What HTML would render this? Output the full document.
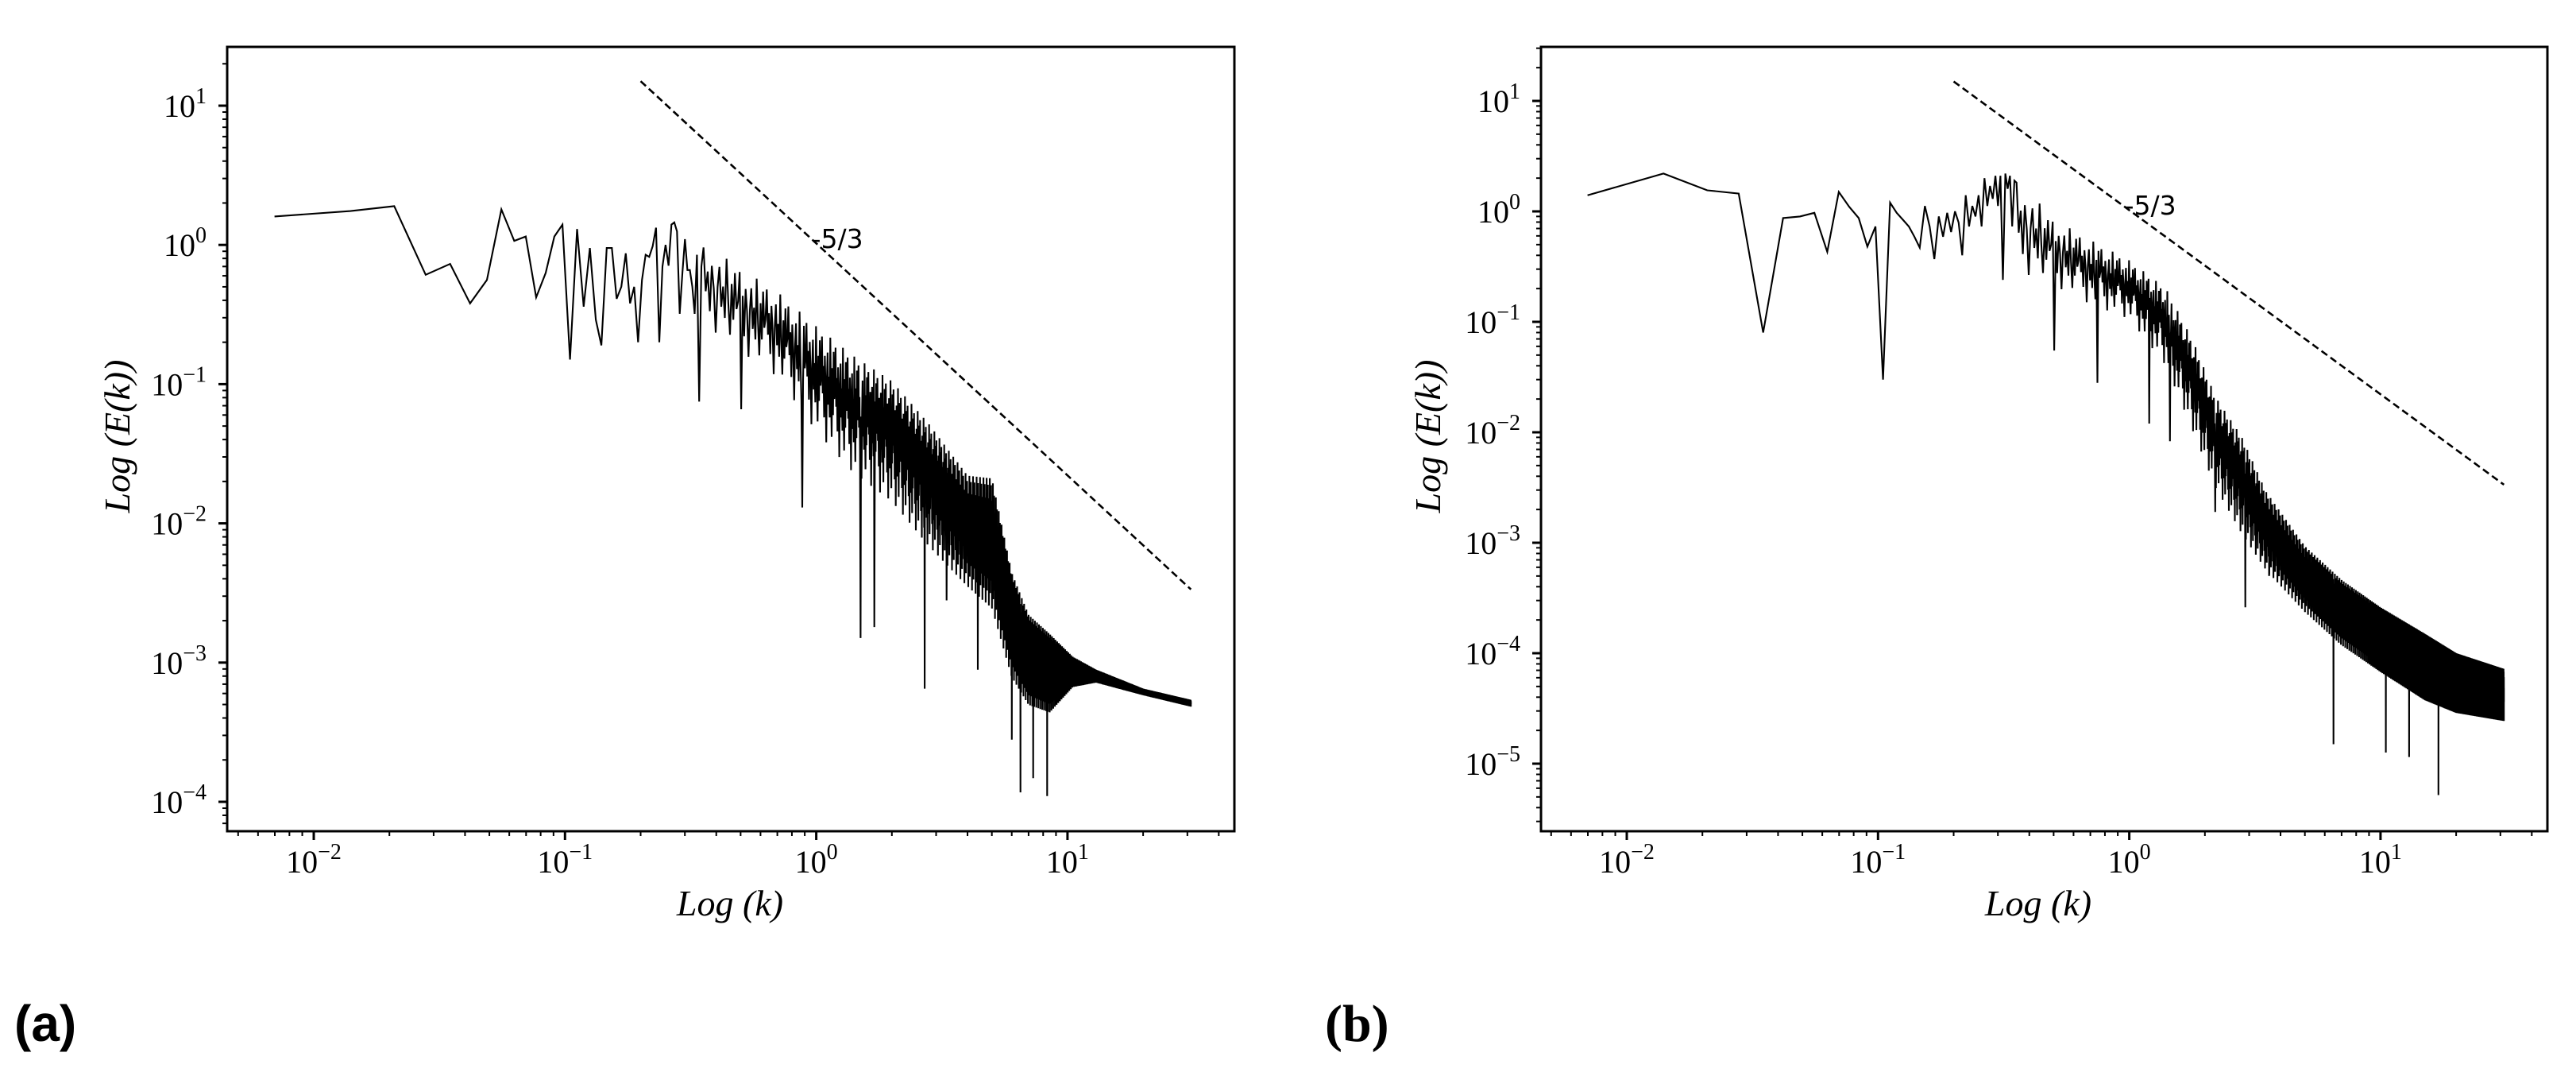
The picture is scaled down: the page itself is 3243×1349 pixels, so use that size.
<!DOCTYPE html>
<html><head><meta charset="utf-8">
<style>
html,body{margin:0;padding:0;background:#fff;}
svg{display:block;}
.tl{font-family:"Liberation Serif",serif;font-size:40px;fill:#000;}
.al{font-family:"Liberation Serif",serif;font-style:italic;font-size:46px;fill:#000;}
.sl{font-family:"DejaVu Sans","Liberation Sans",sans-serif;font-size:33px;fill:#000;}
</style></head>
<body>
<svg id="fig" width="3243" height="1349" viewBox="0 0 3243 1349" xmlns="http://www.w3.org/2000/svg">
<rect width="3243" height="1349" fill="#fff"/>
<text x="18" y="1310" font-family="Liberation Sans, sans-serif" font-weight="bold" font-size="64">(a)</text>
<text x="1668" y="1310" font-family="Liberation Serif, serif" font-weight="bold" font-size="66">(b)</text>
</svg>
<script>
// ---- Panel (a) data ----
const aLowK=[0.00698,0.0140,0.0209,0.0279,0.0349,0.0419,0.0489,0.0558,0.0628,0.0698,0.0768,0.0838,0.0907,0.0977,0.1047,0.1117,0.1187,0.1256,0.1326,0.1396,0.1466,0.1536,0.1605,0.1675,0.1745,0.1815,0.1885,0.1954,0.2024,0.2094,0.2164,0.2234,0.2303,0.2373,0.2443,0.2513,0.2583,0.2652,0.2722,0.2792,0.2862,0.2932,0.3001,0.3071,0.3141,0.3211,0.3281,0.3350,0.3420,0.3490];
const aLowE=[1.6,1.75,1.9,0.61,0.73,0.38,0.56,1.8,1.07,1.15,0.42,0.63,1.15,1.4,0.15,1.3,0.36,0.95,0.29,0.19,0.95,0.95,0.41,0.5,0.87,0.38,0.5,0.2,0.56,0.85,0.82,0.98,1.33,0.2,0.7,1.0,0.71,1.4,1.45,1.25,0.32,0.63,1.1,0.66,0.66,0.5,0.32,0.85,0.075,0.7];
const aEnvK=[0.35,0.5,0.7,1.0,1.4,2.0,2.8,4.0,5.0,6.0,7.0,8.5,10.5,13,20,31];
const aEnvUpper=[1.05,0.68,0.46,0.26,0.16,0.105,0.052,0.022,0.021,0.0044,0.0022,0.0016,0.0011,0.00089,0.00065,0.00054];
const aEnvLower=[0.26,0.16,0.105,0.042,0.021,0.013,0.0062,0.0032,0.0022,0.00072,0.00046,0.00041,0.00065,0.00071,0.00058,0.00048];
const aDipK=[0.5,0.88,1.5,1.7,2.7,3.3,4.4,6.0,6.5,7.3,8.3];
const aDipE=[0.066,0.013,0.0015,0.0018,0.00065,0.0028,0.00089,0.00028,0.000117,0.000148,0.00011];
// ---- Panel (b) data ----
const bLowK=[0.00698,0.0140,0.0209,0.0279,0.0349,0.0419,0.0489,0.0558,0.0628,0.0698,0.0768,0.0838,0.0907,0.0977,0.1047,0.1117,0.1187,0.1256,0.1326,0.1396,0.1466,0.1536,0.1605,0.1675,0.1745,0.1815,0.1885,0.1954,0.2024,0.2094,0.2164,0.2234,0.2303,0.2373,0.2443,0.2513,0.2583,0.2652,0.2722,0.2792,0.2862,0.2932,0.3001,0.3071,0.3141,0.3211,0.3281,0.3350,0.3420,0.3490];
const bLowE=[1.4,2.2,1.55,1.45,0.08,0.87,0.9,0.97,0.43,1.5,1.1,0.87,0.48,0.73,0.03,1.2,0.97,0.84,0.73,0.59,0.47,1.12,0.73,0.37,0.9,0.59,0.97,0.65,1.0,0.79,0.4,1.4,0.73,1.12,0.9,1.4,0.73,2.0,1.12,1.7,1.3,2.1,1.12,2.1,0.24,2.2,1.6,2.1,0.73,1.9];
const bEnvK=[0.35,0.5,0.7,1.0,1.4,1.8,2.2,2.8,3.5,5,7,10,15,20,31];
const bEnvUpper=[2.1,0.85,0.55,0.36,0.2,0.066,0.021,0.0091,0.0029,0.00093,0.00046,0.00026,0.00015,0.0001,0.000072];
const bEnvLower=[0.27,0.2,0.135,0.1,0.037,0.0091,0.0029,0.0011,0.00052,0.00022,0.00011,0.000063,0.000035,0.000027,0.000023];
const bDipK=[0.5,0.75,1.2,1.45,2.2,2.9,3.6,6.5,10.5,13,17];
const bDipE=[0.055,0.028,0.012,0.0083,0.0019,0.00026,0.0005,0.000015,0.0000126,0.0000115,0.0000052];
// reference slope line
const slopeK=[0.2,31];
const slopeE0=15;
const slopeExp=-5/3;
const xTickExps=[-2,-1,0,1];
const aYTickExps=[-4,-3,-2,-1,0,1];
const bYTickExps=[-5,-4,-3,-2,-1,0,1];
const K0=0.00698;
// position within envelope band (0 = lower, 1 = upper) cycled over samples
const bandPattern=[0.95,0.45,0.7,0.25,0.8,0.55,0.05,0.6,0.85,0.4,0.65,0.3,1.0,0.5,0.15,0.75,0.35,0.9,0.5,0.6];

const NS="http://www.w3.org/2000/svg";
const svg=document.getElementById('fig');
function mk(tag,attrs,parent){const e=document.createElementNS(NS,tag);for(const k in attrs)e.setAttribute(k,attrs[k]);(parent||svg).appendChild(e);return e;}

function interpLog(ks,vs,k){
  const lk=Math.log10(k);
  for(let i=0;i<ks.length-1;i++){
    const a=Math.log10(ks[i]),b=Math.log10(ks[i+1]);
    if(lk>=a&&lk<=b){const t=(lk-a)/(b-a);return Math.log10(vs[i])*(1-t)+Math.log10(vs[i+1])*t;}
  }
  return Math.log10(vs[lk<Math.log10(ks[0])?0:vs.length-1]);
}

function drawPanel(p,lowK,lowE,envK,envU,envL,dipK,dipE,yExps){
  const X=k=>p.x0+(Math.log10(k)+2)*p.xd;
  const Y=e=>p.y0-Math.log10(e)*p.yd;
  const g=mk('g',{});
  
  
  const cid='clip-'+p.name;
  const cp=mk('clipPath',{id:cid},g);
  mk('rect',{x:p.l,y:p.t,width:p.r-p.l,height:p.b-p.t},cp);
  const pts=[];
  for(let i=0;i<lowK.length;i++)pts.push([X(lowK[i]),Y(lowE[i])]);
  const kStart=envK[0]+K0, kEnd=envK[envK.length-1];
  const dipIdx={};
  for(let j=0;j<dipK.length;j++){dipIdx[Math.round(dipK[j]/K0)]=dipE[j];}
  let n=Math.round(kStart/K0);
  let i=0;
  while(n*K0<=kEnd){
    const k=n*K0;
    const u=interpLog(envK,envU,k), lo=interpLog(envK,envL,k);
    const f=bandPattern[i%bandPattern.length];
    let e=Math.pow(10,lo+f*(u-lo));
    if(dipIdx[n]!==undefined)e=dipIdx[n];
    pts.push([X(k),Y(e)]);
    n++;i++;
  }
  const line=mk('polyline',{points:pts.map(q=>q[0].toFixed(1)+','+q[1].toFixed(1)).join(' '),fill:'none',stroke:'#000','stroke-width':2.1,'stroke-linejoin':'miter','clip-path':'url(#'+cid+')'},g);
  
  
  const sl=mk('line',{x1:X(slopeK[0]),y1:Y(slopeE0),x2:X(slopeK[1]),y2:Y(slopeE0*Math.pow(slopeK[1]/slopeK[0],slopeExp)),stroke:'#000','stroke-width':2.6,'stroke-dasharray':'9,5'},g);
  
  
  const st=mk('text',{x:X(1.0)-6,y:Y(1.0)+4,class:'sl'},g);
  st.textContent='-5/3';
  
  
  const fr=mk('rect',{x:p.l,y:p.t,width:p.r-p.l,height:p.b-p.t,fill:'none',stroke:'#000','stroke-width':3},g);
  
  
  for(let d=-3;d<=2;d++){
    for(let m=1;m<=9;m++){
      const k=m*Math.pow(10,d);const x=X(k);
      if(x<p.l+1||x>p.r-1)continue;
      const len=m===1?11:6;
      mk('line',{x1:x,y1:p.b,x2:x,y2:p.b+len,stroke:'#000','stroke-width':m===1?3:2},g);
    }
  }
  for(const d of xTickExps){
    const t=mk('text',{x:X(Math.pow(10,d)),y:p.b+52,class:'tl','text-anchor':'middle'},g);
    
    
    t.innerHTML='10<tspan dy="-17" font-size="28">'+(d<0?'\u2212'+(-d):d)+'</tspan>';
  }
  for(let d=-6;d<=2;d++){
    for(let m=1;m<=9;m++){
      const e=m*Math.pow(10,d);const y=Y(e);
      if(y<p.t+1||y>p.b-1)continue;
      const len=m===1?11:6;
      mk('line',{x1:p.l,y1:y,x2:p.l-len,y2:y,stroke:'#000','stroke-width':m===1?3:2},g);
    }
  }
  for(const d of yExps){
    const t=mk('text',{x:p.l-26,y:Y(Math.pow(10,d))+14,class:'tl','text-anchor':'end'},g);
    
    
    t.innerHTML='10<tspan dy="-17" font-size="28">'+(d<0?'\u2212'+(-d):d)+'</tspan>';
  }
  const xl=mk('text',{x:p.xlx,y:1152,class:'al','text-anchor':'middle'},g);
  xl.textContent='Log (k)';
  
  
  const yl=mk('text',{x:0,y:0,class:'al','text-anchor':'middle',transform:'translate('+(p.ylx)+',549) rotate(-90)'},g);
  yl.textContent='Log (E(k))';
  
  
}

drawPanel({name:'panel-a',l:286,r:1554,t:59,b:1046,x0:395,xd:316.3,y0:308.2,yd:175.2,xlx:919,ylx:163},
  aLowK,aLowE,aEnvK,aEnvUpper,aEnvLower,aDipK,aDipE,aYTickExps);
drawPanel({name:'panel-b',l:1940,r:3207,t:59,b:1046,x0:2048,xd:316.3,y0:266,yd:139,xlx:2566,ylx:1813},
  bLowK,bLowE,bEnvK,bEnvUpper,bEnvLower,bDipK,bDipE,bYTickExps);
</script>
</body></html>
